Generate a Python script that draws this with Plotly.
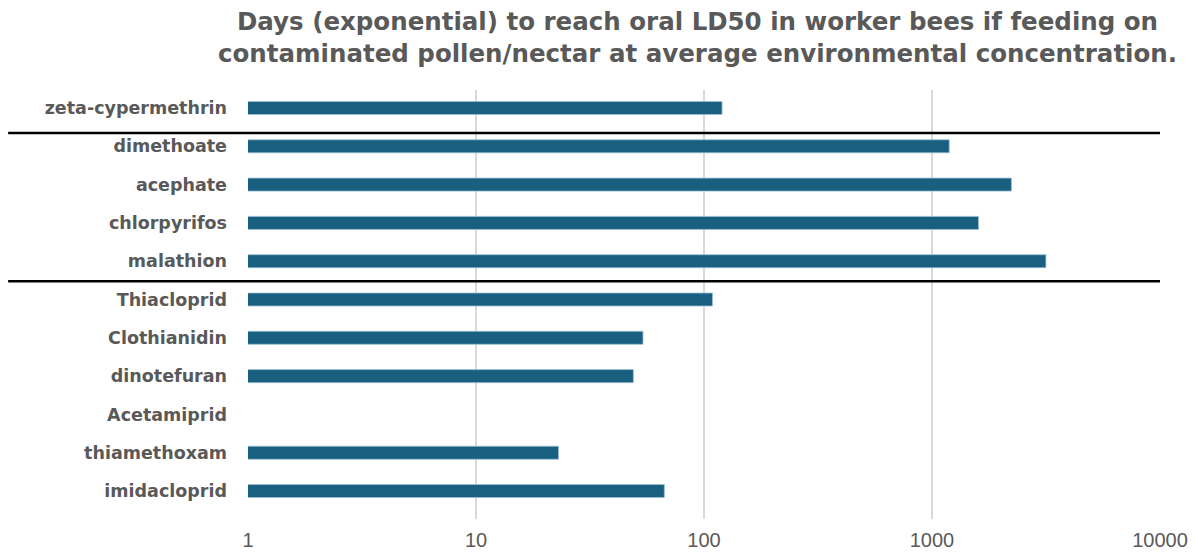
import plotly.graph_objects as go

categories = ["zeta-cypermethrin", "dimethoate", "acephate", "chlorpyrifos", "malathion",
              "Thiacloprid", "Clothianidin", "dinotefuran", "Acetamiprid", "thiamethoxam", "imidacloprid"]
days = [120, 1190, 2230, 1600, 3160, 109, 54, 49, None, 23, 67]
tick_vals = [1, 10, 100, 1000, 10000]
tick_text = ["1", "10", "100", "1000", "10000"]
separators = [0.65, 4.52]
title_text = ("Days (exponential) to reach oral LD50 in worker bees if feeding on<br>"
              "contaminated pollen/nectar at average environmental concentration.")

fig = go.Figure()
fig.add_trace(go.Bar(
    y=categories, x=days, orientation="h", width=0.34,
    marker=dict(color="#185F80", line=dict(color="#9DC0D6", width=0.8)),
))

for s in separators:
    fig.add_shape(type="line", xref="paper", yref="y", x0=-0.263, x1=1.0, y0=s, y1=s,
                  line=dict(color="black", width=2.5), layer="above")

fig.add_annotation(
    text=title_text, xref="paper", yref="paper", x=(697 - 248) / 912, y=1 + 85 / 429,
    xanchor="center", yanchor="top", showarrow=False, align="center",
    font=dict(family="DejaVu Sans, sans-serif", size=24.5, color="#595959", weight="bold"),
)

fig.update_layout(
    width=1198, height=552,
    margin=dict(l=248, r=38, t=90, b=33),
    plot_bgcolor="white", paper_bgcolor="white",
    showlegend=False,
    xaxis=dict(
        type="log", range=[0, 4], tickvals=tick_vals, ticktext=tick_text,
        showgrid=True, gridcolor="#D9D9D9", gridwidth=1.5,
        zeroline=False, showline=False, ticks="", automargin=False,
        tickfont=dict(family="Liberation Sans, Arial, sans-serif", size=20, color="#595959"),
        ticklabelstandoff=7,
    ),
    yaxis=dict(
        type="category", range=[10.73, -0.47], automargin=False,
        showgrid=False, zeroline=False, showline=False, ticks="",
        tickfont=dict(family="DejaVu Sans, sans-serif", size=17.5, color="#595959", weight="bold"),
        ticklabelstandoff=20,
    ),
)

fig.write_html("out.html")
